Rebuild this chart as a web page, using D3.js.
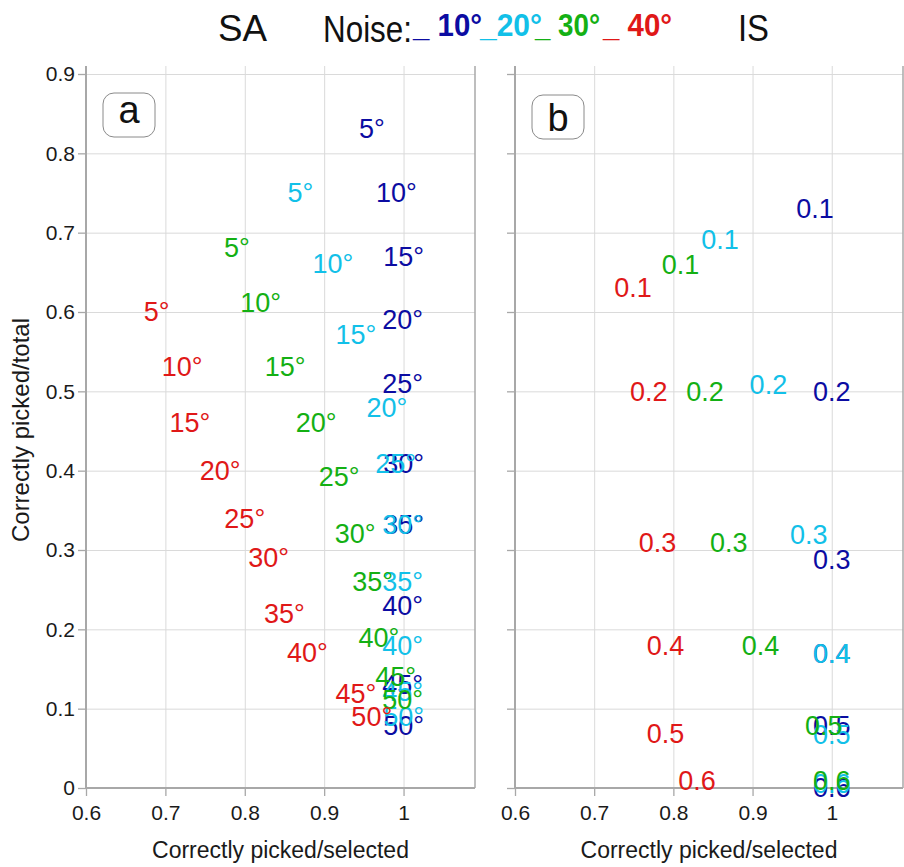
<!DOCTYPE html>
<html><head><meta charset="utf-8">
<script src="https://cdn.jsdelivr.net/npm/d3@7"></script>
<style>body{margin:0;background:#fff;} svg{display:block;font-family:"Liberation Sans",Arial,sans-serif;}</style>
</head><body><svg id="c" width="904" height="867"></svg>
<script>
// ---------- data ----------
const xTicks = [0.6, 0.7, 0.8, 0.9, 1.0];
const xTickLabels = ["0.6", "0.7", "0.8", "0.9", "1"];
const yTicks = [0, 0.1, 0.2, 0.3, 0.4, 0.5, 0.6, 0.7, 0.8, 0.9];
const yTickLabels = ["0", "0.1", "0.2", "0.3", "0.4", "0.5", "0.6", "0.7", "0.8", "0.9"];
const noiseLevels = ["10°", "20°", "30°", "40°"];
const noiseColors = ["#0c0ca2", "#12c0e8", "#14b014", "#e01818"];

// Panel a (SA): labels = angle threshold
const angleLabels = ["5°", "10°", "15°", "20°", "25°", "30°", "35°", "40°", "45°", "50°"];
const saSel10 = [0.960, 0.991, 1.000, 0.999, 0.999, 1.000, 1.000, 0.999, 0.999, 1.000];
const saTot10 = [0.831, 0.751, 0.670, 0.590, 0.510, 0.409, 0.332, 0.230, 0.131, 0.079];
const saSel20 = [0.870, 0.911, 0.940, 0.979, 0.990, 0.999, 0.999, 0.999, 0.999, 1.000];
const saTot20 = [0.751, 0.661, 0.571, 0.480, 0.409, 0.332, 0.260, 0.180, 0.121, 0.090];
const saSel30 = [0.790, 0.820, 0.851, 0.890, 0.919, 0.939, 0.961, 0.969, 0.990, 0.999];
const saTot30 = [0.681, 0.612, 0.531, 0.461, 0.392, 0.321, 0.260, 0.190, 0.140, 0.111];
const saSel40 = [0.689, 0.721, 0.731, 0.769, 0.800, 0.830, 0.850, 0.879, 0.940, 0.960];
const saTot40 = [0.600, 0.531, 0.461, 0.400, 0.340, 0.290, 0.220, 0.171, 0.119, 0.090];

// Panel b (IS): labels = threshold
const thresholdLabels = ["0.1", "0.2", "0.3", "0.4", "0.5", "0.6"];
const isSel10 = [0.979, 1.000, 1.000, 1.000, 1.000, 1.000];
const isTot10 = [0.730, 0.500, 0.288, 0.169, 0.079, 0.000];
const isSel20 = [0.859, 0.920, 0.971, 1.000, 1.000, 1.000];
const isTot20 = [0.691, 0.509, 0.319, 0.169, 0.068, 0.005];
const isSel30 = [0.809, 0.840, 0.870, 0.910, 0.990, 1.000];
const isTot30 = [0.660, 0.500, 0.309, 0.179, 0.079, 0.009];
const isSel40 = [0.749, 0.769, 0.780, 0.790, 0.790, 0.830];
const isTot40 = [0.631, 0.500, 0.309, 0.179, 0.069, 0.009];

// ---------- layout ----------
const svg = d3.select("#c");
const plotTop = 66, plotBottom = 788;
const yScale = d3.scaleLinear().domain([0, 0.9]).range([788, 74]);
const gridColor = "#dadada", axisColor = "#a8a8a8";

function panel(x0, x1, showYLabels, sels, tots, labels, letter, letterBaseline) {
  const x = d3.scaleLinear().domain([0.6, 1.09]).range([x0, x1]);
  const y = yScale;
  const g = svg.append("g");

  // vertical grid
  const vg = g.append("g").attr("transform", `translate(0,${plotBottom})`)
    .call(d3.axisBottom(x).tickValues(xTicks).tickSize(-(plotBottom - plotTop)).tickSizeOuter(0).tickFormat(""));
  vg.select(".domain").remove();
  vg.selectAll("line").attr("stroke", gridColor).attr("stroke-width", 1);

  // horizontal grid
  const hg = g.append("g").attr("transform", `translate(${x0},0)`)
    .call(d3.axisLeft(y).tickValues(yTicks).tickSize(-(x1 - x0)).tickSizeOuter(0).tickFormat(""));
  hg.select(".domain").remove();
  hg.selectAll("line").attr("stroke", gridColor).attr("stroke-width", 1);

  // bottom axis ticks + labels
  const bx = g.append("g").attr("transform", `translate(0,${plotBottom})`)
    .call(d3.axisBottom(x).tickValues(xTicks).tickSize(8).tickSizeOuter(0).tickPadding(9)
      .tickFormat((d, i) => xTickLabels[i]));
  bx.select(".domain").remove();
  bx.selectAll("line").attr("stroke", axisColor).attr("stroke-width", 1.3);
  bx.selectAll("text").attr("font-size", 21).attr("fill", "#1a1a1a")
    .attr("font-family", "Liberation Sans, Arial, sans-serif");

  // left axis ticks (+labels)
  const ly = g.append("g").attr("transform", `translate(${x0},0)`)
    .call(d3.axisLeft(y).tickValues(yTicks).tickSize(8).tickSizeOuter(0).tickPadding(3)
      .tickFormat((d, i) => showYLabels ? yTickLabels[i] : ""));
  ly.select(".domain").remove();
  ly.selectAll("line").attr("stroke", axisColor).attr("stroke-width", 1.3);
  ly.selectAll("text").attr("font-size", 21).attr("fill", "#1a1a1a")
    .attr("font-family", "Liberation Sans, Arial, sans-serif");

  // axis frame lines
  g.append("line").attr("x1", x0).attr("x2", x0).attr("y1", plotTop).attr("y2", plotBottom)
    .attr("stroke", axisColor).attr("stroke-width", 2);
  g.append("line").attr("x1", x0).attr("x2", x1).attr("y1", plotBottom).attr("y2", plotBottom)
    .attr("stroke", axisColor).attr("stroke-width", 2);
  g.append("line").attr("x1", x1).attr("x2", x1).attr("y1", plotTop).attr("y2", plotBottom)
    .attr("stroke", axisColor).attr("stroke-width", 1.5);

  // panel letter box
  g.append("rect").attr("x", x0 + 17).attr("y", 93 + (letter === "b" ? 2 : 0))
    .attr("width", 52).attr("height", 44).attr("rx", 11)
    .attr("fill", "#fff").attr("stroke", "#8a8a8a").attr("stroke-width", 1);
  g.append("text").attr("x", x0 + 43).attr("y", letterBaseline).attr("text-anchor", "middle")
    .attr("font-size", 38).attr("fill", "#111").text(letter);

  // data labels
  sels.forEach((sel, s) => {
    g.append("g").selectAll("text").data(sel).join("text")
      .attr("x", d => x(d))
      .attr("y", (d, i) => y(tots[s][i]))
      .attr("dy", "0.35em")
      .attr("text-anchor", "middle")
      .attr("font-size", 27)
      .attr("fill", noiseColors[s])
      .text((d, i) => labels[i]);
  });

  // x title
  g.append("text").attr("x", (x0 + x1) / 2).attr("y", 858).attr("text-anchor", "middle")
    .attr("font-size", 23).attr("fill", "#1a1a1a").text("Correctly picked/selected");
}

panel(86, 475, true,
  [saSel10, saSel20, saSel30, saSel40], [saTot10, saTot20, saTot30, saTot40],
  angleLabels, "a", 123);
panel(515, 903, false,
  [isSel10, isSel20, isSel30, isSel40], [isTot10, isTot20, isTot30, isTot40],
  thresholdLabels, "b", 131);

// y title
svg.append("text").attr("transform", "translate(29,430) rotate(-90)")
  .attr("text-anchor", "middle").attr("font-size", 24).attr("fill", "#1a1a1a")
  .text("Correctly picked/total");

// ---------- title row ----------
const t = svg.append("g");
t.append("text").attr("x", 218).attr("y", 41).attr("font-size", 37).attr("fill", "#111")
  .attr("textLength", 49).attr("lengthAdjust", "spacingAndGlyphs").text("SA");
t.append("text").attr("x", 323).attr("y", 42).attr("font-size", 36).attr("fill", "#111")
  .attr("textLength", 89).attr("lengthAdjust", "spacingAndGlyphs").text("Noise:");
const legendStarts = [413, 480, 535, 603];
const legendWidths = [69, 62, 65, 69];
const legendTexts = ["_ " + noiseLevels[0], "_" + noiseLevels[1], "_ " + noiseLevels[2], "_ " + noiseLevels[3]];
t.selectAll("text.leg").data(legendTexts).join("text").attr("class", "leg")
  .attr("x", (d, i) => legendStarts[i]).attr("y", 36)
  .attr("font-size", 32).attr("font-weight", "bold")
  .attr("fill", (d, i) => noiseColors[i])
  .attr("textLength", (d, i) => legendWidths[i]).attr("lengthAdjust", "spacingAndGlyphs")
  .text(d => d);
t.append("text").attr("x", 738).attr("y", 41).attr("font-size", 37).attr("fill", "#111")
  .attr("textLength", 31).attr("lengthAdjust", "spacingAndGlyphs").text("IS");
</script>
</body></html>
